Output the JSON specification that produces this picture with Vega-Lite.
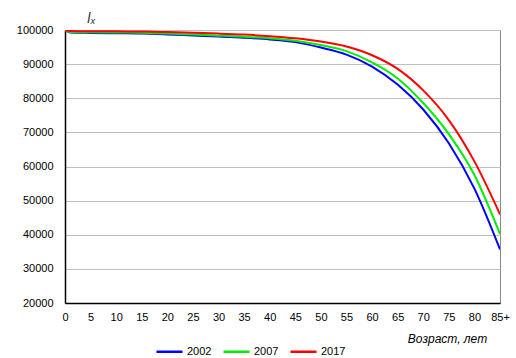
{
  "$schema": "https://vega.github.io/schema/vega-lite/v6.json",
  "width": 435,
  "height": 273,
  "autosize": {"type": "none"},
  "padding": {"left": 65, "top": 30, "right": 16, "bottom": 55},
  "background": "white",
  "config": {
    "font": "Liberation Sans",
    "view": {"stroke": "#888888", "strokeWidth": 1},
    "axis": {"labelFont": "Liberation Sans", "labelFontSize": 11, "labelColor": "#000000", "ticks": false, "domainColor": "#000000", "domainWidth": 1.5}
  },
  "data": {
    "values": [
      {"age": 0, "year": "2002", "lx": 100000}, {"age": 1, "year": "2002", "lx": 99300}, {"age": 5, "year": "2002", "lx": 99150}, {"age": 10, "year": "2002", "lx": 99050}, {"age": 15, "year": "2002", "lx": 98950}, {"age": 20, "year": "2002", "lx": 98700}, {"age": 25, "year": "2002", "lx": 98400}, {"age": 30, "year": "2002", "lx": 98100}, {"age": 35, "year": "2002", "lx": 97750}, {"age": 40, "year": "2002", "lx": 97250}, {"age": 45, "year": "2002", "lx": 96450}, {"age": 50, "year": "2002", "lx": 94850}, {"age": 55, "year": "2002", "lx": 92800}, {"age": 60, "year": "2002", "lx": 89300}, {"age": 65, "year": "2002", "lx": 84000}, {"age": 70, "year": "2002", "lx": 76700}, {"age": 75, "year": "2002", "lx": 66800}, {"age": 80, "year": "2002", "lx": 53500}, {"age": 85, "year": "2002", "lx": 35700},
      {"age": 0, "year": "2007", "lx": 100000}, {"age": 1, "year": "2007", "lx": 99450}, {"age": 5, "year": "2007", "lx": 99350}, {"age": 10, "year": "2007", "lx": 99280}, {"age": 15, "year": "2007", "lx": 99180}, {"age": 20, "year": "2007", "lx": 98950}, {"age": 25, "year": "2007", "lx": 98650}, {"age": 30, "year": "2007", "lx": 98350}, {"age": 35, "year": "2007", "lx": 98000}, {"age": 40, "year": "2007", "lx": 97550}, {"age": 45, "year": "2007", "lx": 96850}, {"age": 50, "year": "2007", "lx": 95600}, {"age": 55, "year": "2007", "lx": 93800}, {"age": 60, "year": "2007", "lx": 90500}, {"age": 65, "year": "2007", "lx": 85800}, {"age": 70, "year": "2007", "lx": 78600}, {"age": 75, "year": "2007", "lx": 69500}, {"age": 80, "year": "2007", "lx": 57500}, {"age": 85, "year": "2007", "lx": 40200},
      {"age": 0, "year": "2017", "lx": 100000}, {"age": 1, "year": "2017", "lx": 99700}, {"age": 5, "year": "2017", "lx": 99640}, {"age": 10, "year": "2017", "lx": 99600}, {"age": 15, "year": "2017", "lx": 99530}, {"age": 20, "year": "2017", "lx": 99380}, {"age": 25, "year": "2017", "lx": 99180}, {"age": 30, "year": "2017", "lx": 98950}, {"age": 35, "year": "2017", "lx": 98650}, {"age": 40, "year": "2017", "lx": 98200}, {"age": 45, "year": "2017", "lx": 97550}, {"age": 50, "year": "2017", "lx": 96600}, {"age": 55, "year": "2017", "lx": 95150}, {"age": 60, "year": "2017", "lx": 92600}, {"age": 65, "year": "2017", "lx": 88600}, {"age": 70, "year": "2017", "lx": 82300}, {"age": 75, "year": "2017", "lx": 73600}, {"age": 80, "year": "2017", "lx": 61500}, {"age": 85, "year": "2017", "lx": 46000}
    ]
  },
  "mark": {"type": "line", "strokeWidth": 2, "interpolate": "monotone", "clip": true},
  "encoding": {
    "x": {
      "field": "age", "type": "quantitative",
      "scale": {"domain": [0, 85], "nice": false, "zero": false},
      "axis": {
        "values": [0, 5, 10, 15, 20, 25, 30, 35, 40, 45, 50, 55, 60, 65, 70, 75, 80, 85],
        "labelExpr": "datum.value == 85 ? '85+' : datum.label",
        "labelFlush": false, "labelPadding": 8, "grid": false,
        "title": "Возраст, лет", "titleFont": "Liberation Sans", "titleFontSize": 12, "titleFontStyle": "italic", "titleFontWeight": "normal", "titleColor": "#000000",
        "titleX": 382, "titleY": 35, "titleAlign": "center", "titleBaseline": "middle"
      }
    },
    "y": {
      "field": "lx", "type": "quantitative",
      "scale": {"domain": [20000, 100000], "nice": false, "zero": false},
      "axis": {
        "values": [20000, 30000, 40000, 50000, 60000, 70000, 80000, 90000, 100000],
        "format": "d", "labelPadding": 12, "grid": true, "gridColor": "#c0c0c0", "gridWidth": 1,
        "title": "lₓ", "titleFont": "Liberation Sans", "titleFontSize": 14, "titleFontStyle": "italic", "titleFontWeight": "normal", "titleColor": "#333333",
        "titleAngle": 0, "titleX": 26, "titleY": -12, "titleAlign": "center", "titleBaseline": "middle"
      }
    },
    "color": {
      "field": "year", "type": "nominal",
      "scale": {"domain": ["2002", "2007", "2017"], "range": ["#0000ff", "#00ee00", "#ff0000"]},
      "legend": {
        "title": null, "orient": "none", "direction": "horizontal", "legendX": 90, "legendY": 307,
        "symbolType": "stroke", "symbolSize": 676, "symbolStrokeWidth": 2.5, "symbolOffset": 0,
        "labelFont": "Liberation Sans", "labelFontSize": 11, "labelColor": "#000000", "labelOffset": 3, "columnPadding": 6
      }
    }
  }
}
